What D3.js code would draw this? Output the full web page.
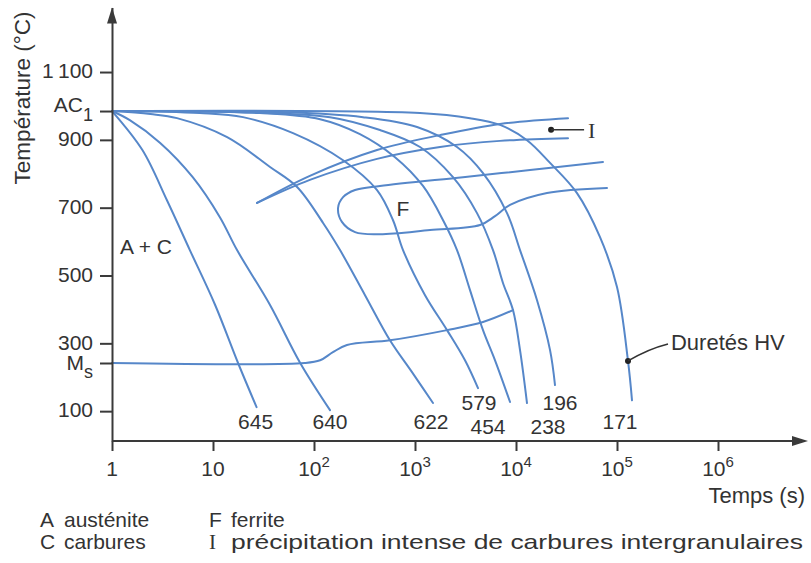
<!DOCTYPE html>
<html><head><meta charset="utf-8">
<script src="https://cdn.jsdelivr.net/npm/d3@7"></script>
<style>body{margin:0;background:#fff}svg{display:block}</style>
</head><body>
<svg id="c" width="811" height="563"></svg>
<script>
// ---------- data ----------
const AC1 = 985, MS = 242;
const yTickValues = [100, 300, 500, 700, 900, 1100];
const xTickValues = [1, 10, 100, 1000, 10000, 100000, 1000000];
const hardness = ["645", "640", "622", "579", "454", "238", "196", "171"];

// cooling curves: [time (s), temperature (°C)]
const curve645 = [[1,985],[2.0,870],[3.5,722],[5.9,575],[10.5,413],[17.7,242],[27,112]];
const curve640 = [[1,985],[1.5,958],[3.0,891],[6.3,790],[11.7,672],[17.3,575],[36.7,413],[73,242],[144,103]];
const curve622 = [[1,985],[2.4,976],[4.4,964],[13.8,908],[36.7,820],[68,761],[123,655],[181,575],[320,442],[565,309],[934,215],[1507,124]];
const curve579 = [[1,985],[7.4,979],[19.8,967],[62,920],[194,840],[421,752],[606,663],[761,575],[1257,442],[2075,339],[3126,250],[4207,168]];
const curve454 = [[1,985],[29,979],[115,961],[285,917],[634,849],[1200,764],[1936,658],[2606,575],[3505,457],[4713,339],[6200,250],[8730,127]];
const curve238 = [[1,985],[14.7,982],[144,967],[450,929],[1121,879],[2378,790],[4112,684],[5920,575],[7430,478],[9340,398],[10960,280],[12850,124]];
const curve196 = [[1,985],[46,982],[306,967],[1047,938],[2606,879],[4713,802],[8150,684],[10960,575],[16150,427],[21730,280],[24330,177]];
const curve171 = [[1,985],[1121,979],[3505,964],[6950,944],[12850,899],[21730,832],[40180,743],[67900,613],[100000,466],[128500,248],[140800,132]];
const coolingCurves = [curve645, curve640, curve622, curve579, curve454, curve238, curve196, curve171];

// transformation lines
const bainiteLine = [[1,242],[81,242],[115,250],[154,274],[212,295],[565,309],[2075,339],[4713,363],[9340,398]];
const precipUpper = [[27.3,714],[91,794],[421,870],[1770,914],[6950,947],[32730,964]];
const precipLower = [[27.3,714],[91,782],[421,844],[1770,879],[6950,897],[32730,905]];
const ferriteNose = [[72600,835],[13770,811],[2985,790],[450,764],[255,752],[194,731],[173,699],[189,658],[255,628],[450,622],[1409,634],[4405,649],[6200,675],[8730,708],[20280,743],[79600,758]];

// ---------- drawing ----------
const svg = d3.select("#c");
const FONT = "'Liberation Sans', Arial, Helvetica, sans-serif";
const SERIF = "'Liberation Serif', 'DejaVu Serif', serif";
const TXT = "#333";
const AX = "#3a3a3a";
const BLUE = "#5687c9";

const x = d3.scaleLog().domain([1, 1e6]).range([112, 718]);
const y = d3.scaleLinear().domain([12, 1290]).range([441, 7.6]);

const line = d3.line().x(d => x(d[0])).y(d => y(d[1])).curve(d3.curveCatmullRom.alpha(0.5));

const plot = svg.append("g");
function drawLine(data) {
  plot.append("path").attr("d", line(data)).attr("fill", "none")
    .attr("stroke", BLUE).attr("stroke-width", 2).attr("stroke-linecap", "round");
}
coolingCurves.forEach(drawLine);
[bainiteLine, precipUpper, precipLower, ferriteNose].forEach(drawLine);

// Y axis
const yAxis = d3.axisLeft(y).tickValues(yTickValues.concat([AC1, MS])).tickSize(12).tickSizeOuter(0).tickFormat("");
const gy = svg.append("g").attr("transform", `translate(${x(1)},0)`).call(yAxis);
gy.selectAll("path,line").attr("stroke", AX).attr("stroke-width", 2);
svg.append("path").attr("d", `M${x(1)},${y(1290)} l-5,16 l10,0 z`).attr("fill", AX);

const yl = svg.append("g").attr("font-family", FONT).attr("font-size", 21).attr("fill", TXT).attr("text-anchor", "end");
yTickValues.forEach(v => {
  yl.append("text").attr("x", 93).attr("y", y(v)).attr("dy", "0.3em")
    .text(v >= 1000 ? d3.format(",")(v).replace(",", "\u2009") : v);
});
const tac = yl.append("text").attr("x", 93).attr("y", y(AC1) + 1);
tac.append("tspan").text("AC");
tac.append("tspan").attr("font-size", 18).attr("dy", 9).text("1");
const tms = yl.append("text").attr("x", 93).attr("y", y(MS) + 7);
tms.append("tspan").text("M");
tms.append("tspan").attr("font-size", 18).attr("dy", 8).text("s");

svg.append("text").attr("transform", `translate(30,98) rotate(-90)`)
  .attr("text-anchor", "middle").attr("font-family", FONT).attr("font-size", 22.5).attr("fill", TXT)
  .text("Température (°C)");

// X axis
const xAxis = d3.axisBottom(x).tickValues(xTickValues).tickSize(10).tickSizeOuter(0).tickFormat("");
const gx = svg.append("g").attr("transform", `translate(0,${y(12)})`).call(xAxis);
gx.selectAll("line").attr("stroke", AX).attr("stroke-width", 2);
gx.select(".domain").remove();
svg.append("line").attr("x1", x(1)).attr("x2", 798).attr("y1", y(12)).attr("y2", y(12))
  .attr("stroke", AX).attr("stroke-width", 2);
svg.append("path").attr("d", `M808,${y(12)} l-16,-5 l0,10 z`).attr("fill", AX);

const xl = svg.append("g").attr("font-family", FONT).attr("font-size", 21).attr("fill", TXT).attr("text-anchor", "middle");
xTickValues.forEach(v => {
  const e = Math.round(Math.log10(v));
  const t = xl.append("text").attr("x", x(v)).attr("y", 476);
  if (e < 2) t.text(v);
  else {
    t.append("tspan").text("10");
    t.append("tspan").attr("font-size", 15).attr("dy", -9).text(e);
  }
});
svg.append("text").attr("x", 805).attr("y", 503).attr("text-anchor", "end")
  .attr("font-family", FONT).attr("font-size", 22).attr("fill", TXT).text("Temps (s)");

// hardness labels under the curve ends
const labelDx = [-1, 0, -2, 1, -22, 21, 5, -12];
const labelY = [429, 429, 429, 410, 434, 434, 410, 429];
const hl = svg.append("g").attr("font-family", FONT).attr("font-size", 21).attr("fill", TXT).attr("text-anchor", "middle");
coolingCurves.forEach((c, i) => {
  const end = c[c.length - 1];
  hl.append("text").attr("x", x(end[0]) + labelDx[i]).attr("y", labelY[i]).text(hardness[i]);
});

// region labels
const lab = svg.append("g").attr("font-family", FONT).attr("font-size", 21).attr("fill", TXT);
lab.append("text").attr("x", 120).attr("y", 254).text("A + C");
lab.append("text").attr("x", 403).attr("y", 216).attr("text-anchor", "middle").text("F");
// I marker
const iPt = [precipUpper[5][0] * 0.68, 930];
svg.append("circle").attr("cx", x(iPt[0])).attr("cy", y(iPt[1])).attr("r", 3).attr("fill", "#222");
svg.append("line").attr("x1", x(iPt[0])).attr("x2", x(iPt[0]) + 33).attr("y1", y(iPt[1])).attr("y2", y(iPt[1]))
  .attr("stroke", "#333").attr("stroke-width", 1.5);
svg.append("text").attr("x", x(iPt[0]) + 37).attr("y", y(iPt[1]) + 8).attr("font-family", SERIF)
  .attr("font-size", 22).attr("fill", TXT).text("I");

// Duretés HV marker on the 171 curve
const hvPt = [128500, 248];
const hx = x(hvPt[0]), hy = y(hvPt[1]);
svg.append("circle").attr("cx", hx).attr("cy", hy).attr("r", 3).attr("fill", "#222");
svg.append("path").attr("d", `M${hx},${hy} Q${hx + 20},${hy - 12} ${hx + 40},${hy - 17}`)
  .attr("fill", "none").attr("stroke", "#333").attr("stroke-width", 1.5);
svg.append("text").attr("x", hx + 43).attr("y", hy - 11).attr("font-family", FONT).attr("font-size", 22)
  .attr("fill", TXT).text("Duretés HV");

// legend
const lg = svg.append("g").attr("font-family", FONT).attr("font-size", 21).attr("fill", TXT);
lg.append("text").attr("x", 40).attr("y", 527).text("A");
lg.append("text").attr("x", 64).attr("y", 527).text("austénite");
lg.append("text").attr("x", 40).attr("y", 549).text("C");
lg.append("text").attr("x", 64).attr("y", 549).text("carbures");
lg.append("text").attr("x", 209).attr("y", 527).text("F");
lg.append("text").attr("x", 231).attr("y", 527).text("ferrite");
lg.append("text").attr("x", 209).attr("y", 549).attr("font-family", SERIF).text("I");
lg.append("text").attr("x", 231).attr("y", 549).attr("textLength", 572).attr("lengthAdjust", "spacingAndGlyphs")
  .text("précipitation intense de carbures intergranulaires");
</script>
</body></html>
